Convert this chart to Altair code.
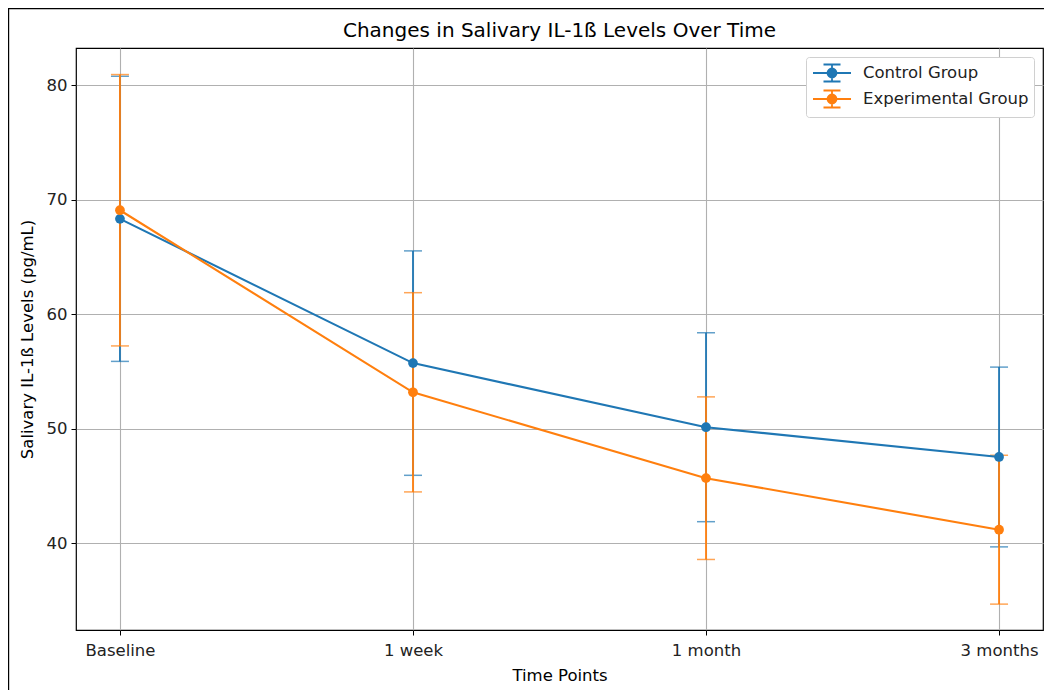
import altair as alt
import pandas as pd

time_labels = ["Baseline", "1 week", "1 month", "3 months"]
time_index = [0, 1, 2, 3]
groups = ["Control Group", "Experimental Group"]
control_mean = [68.35, 55.75, 50.15, 47.55]
control_sd = [12.45, 9.8, 8.25, 7.85]
exp_mean = [69.1, 53.2, 45.7, 41.2]
exp_sd = [11.85, 8.7, 7.1, 6.5]

rows = []
for g, means, sds in [(groups[0], control_mean, control_sd), (groups[1], exp_mean, exp_sd)]:
    for i, m, s in zip(time_index, means, sds):
        rows.append({"t": i, "group": g, "mean": m, "lo": m - s, "hi": m + s})
df = pd.DataFrame(rows)

font = "DejaVu Sans"
colors = ["#1f77b4", "#ff7f0e"]
PAD_L, PAD_T, PAD_R, PAD_B = 68, 40, 1, 60
W, H = 967, 582

color = alt.Color(
    "group:N",
    scale=alt.Scale(domain=groups, range=colors),
    legend=alt.Legend(
        title=None,
        orient="top-right",
        offset=9,
        fillColor="white",
        strokeColor="#d0d0d0",
        cornerRadius=3,
        padding=5,
        labelFont=font,
        labelFontSize=16.5,
        labelColor="#222222",
        labelLimit=400,
        symbolType="M-1.9,0H1.9M0,-0.85V0.85M-0.85,-0.85H0.85M-0.85,0.85H0.85M0.45,0A0.45,0.45 0 1,1 -0.45,0A0.45,0.45 0 1,1 0.45,0Z",
        symbolSize=400,
        symbolStrokeWidth=1.8,
        symbolOffset=10,
        rowPadding=0,
        labelOffset=20,
    ),
)

x_axis = alt.Axis(
    values=time_index,
    labelExpr="['Baseline','1 week','1 month','3 months'][datum.value]",
    title="Time Points",
    grid=True,
)
x = alt.X("t:Q", scale=alt.Scale(domain=[-0.15, 3.15], nice=False, zero=False), axis=x_axis)
y = alt.Y(
    "mean:Q",
    scale=alt.Scale(domain=[32.44, 83.27], nice=False, zero=False),
    axis=alt.Axis(values=[40, 50, 60, 70, 80], title="Salivary IL-1ß Levels (pg/mL)", grid=True),
)

base = alt.Chart(df)

frame = alt.Chart(pd.DataFrame({"k": [0]})).mark_rect(
    fill=None, stroke="black", strokeWidth=1.2, clip=False
).encode(
    x=alt.value(-PAD_L + 0.6), x2=alt.value(W + 40), y=alt.value(-PAD_T + 0.6), y2=alt.value(H + 120)
)

layers = [frame]
for g, c in zip(groups, colors):
    sub = base.transform_filter(alt.datum.group == g)
    layers.append(sub.mark_rule(color=c, strokeWidth=1.8).encode(x=x, y=alt.Y("lo:Q"), y2="hi:Q"))
    layers.append(sub.mark_tick(color=c, orient="horizontal", size=18, thickness=1.5).encode(x=x, y=alt.Y("lo:Q")))
    layers.append(sub.mark_tick(color=c, orient="horizontal", size=18, thickness=1.5).encode(x=x, y=alt.Y("hi:Q")))
for g, c in zip(groups, colors):
    sub = base.transform_filter(alt.datum.group == g)
    layers.append(sub.mark_line(strokeWidth=2.1).encode(x=x, y=y, color=color))
    layers.append(sub.mark_point(filled=True, size=95, opacity=1).encode(x=x, y=y, color=color))

chart = alt.layer(*layers).properties(
    width=W,
    height=H,
    title=alt.TitleParams("Changes in Salivary IL-1ß Levels Over Time", font=font, fontSize=20, fontWeight="normal", color="black", offset=7, dy=40),
    autosize=alt.AutoSizeParams(type="none"),
    padding={"left": PAD_L, "top": PAD_T, "right": PAD_R, "bottom": PAD_B},
).configure_view(stroke="black", strokeWidth=1.2).configure_axis(
    labelFont=font,
    titleFont=font,
    labelFontSize=16.5,
    titleFontSize=16.5,
    titleFontWeight="normal",
    labelColor="#222222",
    titleColor="black",
    gridColor="#b0b0b0",
    gridWidth=1.1,
    tickColor="black",
    tickSize=5,
    domain=False,
    labelPadding=7,
).configure_axisY(titlePadding=11, labelPadding=4).configure_axisX(titlePadding=9)

chart.save("out.html", embed_options={"renderer": "svg", "actions": False})
